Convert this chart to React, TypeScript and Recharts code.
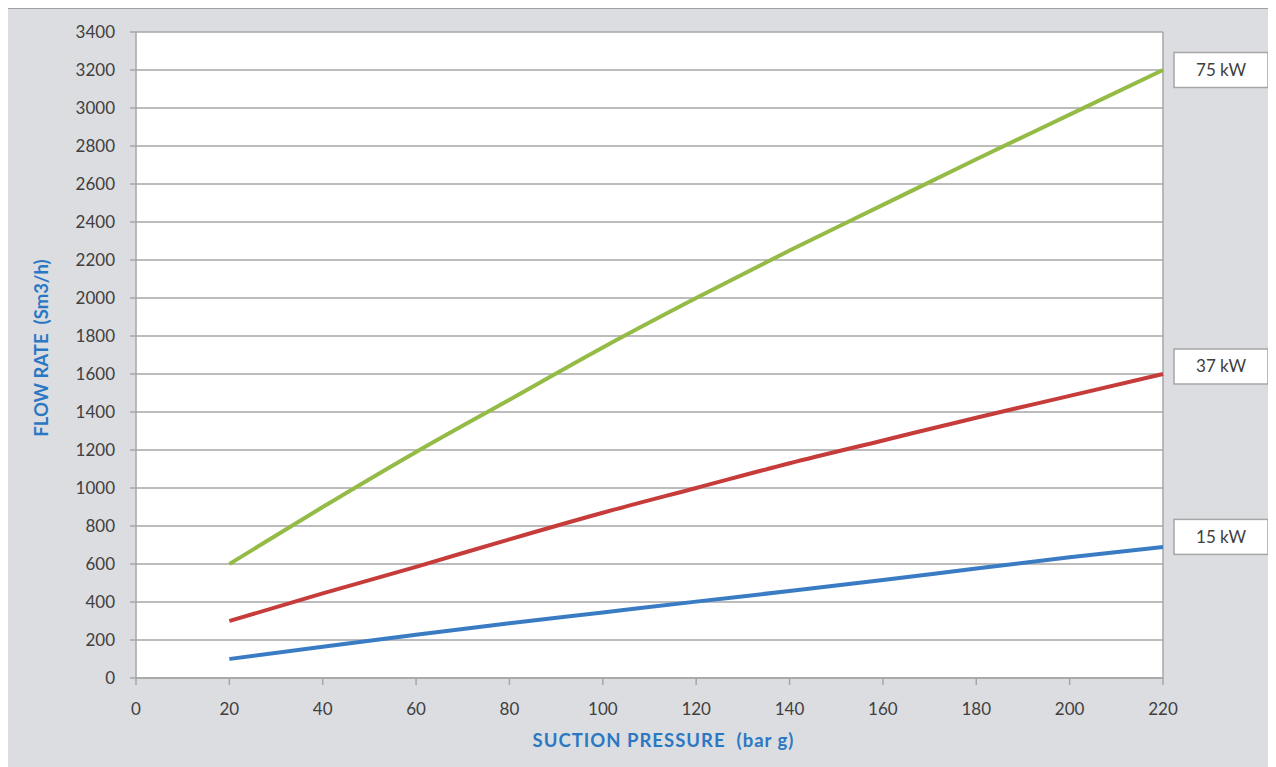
import { LineChart, Line, XAxis, YAxis, CartesianGrid, ReferenceLine } from "recharts"

// suction pressure (bar g) and flow rate (Sm3/h)
const pressure = [20, 40, 60, 80, 100, 120, 140, 160, 180, 200, 220]
const flow75kW = [600, 900, 1190, 1465, 1740, 2000, 2250, 2490, 2730, 2965, 3200]
const flow37kW = [300, 445, 585, 730, 870, 1000, 1130, 1250, 1370, 1485, 1600]
const flow15kW = [100, 165, 228, 288, 345, 402, 458, 516, 576, 635, 690]

const xTicks = [0, 20, 40, 60, 80, 100, 120, 140, 160, 180, 200, 220]
const yTicks = [0, 200, 400, 600, 800, 1000, 1200, 1400, 1600, 1800, 2000, 2200, 2400, 2600, 2800, 3000, 3200, 3400]

const seriesNames = ["75 kW", "37 kW", "15 kW"]
const xTitle = "SUCTION PRESSURE  (bar g)"
const yTitle = "FLOW RATE  (Sm3/h)"

const data = pressure.map((p, i) => ({
  pressure: p,
  kw75: flow75kW[i],
  kw37: flow37kW[i],
  kw15: flow15kW[i],
}))

const FONT = "Lato, 'Open Sans', sans-serif"
const GRID = "#a6a6a6"
const TEXT = "#404040"
const TITLE = "#2a78c4"

function endLabel(text: string, dy: number) {
  return (props: any) => {
    const { x, y, index } = props
    if (index !== data.length - 1) return <g />
    return (
      <g>
        <rect x={x + 11} y={y + dy - 17.5} width={94} height={35} fill="#fff" stroke={GRID} strokeWidth={1.5} />
        <text x={x + 58} y={y + dy} dy="0.35em" textAnchor="middle" fill={TEXT} fontSize={17} fontFamily={FONT}>
          {text}
        </text>
      </g>
    )
  }
}

export default function App() {
  const tickStyle = { fill: TEXT, fontSize: 17, fontFamily: FONT }
  return (
    <div
      style={{
        width: 1268,
        height: 759,
        marginLeft: -1,
        background: "#dcdde0",
        borderLeft: "1px solid #a0a0a0",
        borderTop: "1px solid #a0a0a0",
        boxSizing: "border-box",
      }}
    >
      <LineChart width={1267} height={758} data={data} margin={{ top: 23, right: 112, bottom: 0, left: 0 }}>
        <CartesianGrid vertical={false} stroke={GRID} strokeWidth={1.5} fill="#fff" />
        <XAxis
          dataKey="pressure"
          type="number"
          domain={[0, 220]}
          ticks={xTicks}
          height={89}
          tick={tickStyle}
          tickSize={7}
          tickMargin={18}
          stroke={GRID}
          strokeWidth={1.5}
          label={{
            content: (p: any) => (
              <text
                x={p.viewBox.x + p.viewBox.width / 2 + 14}
                y={p.viewBox.y + 69}
                textAnchor="middle"
                fill={TITLE}
                fontSize={18.5}
                letterSpacing={1}
                fontWeight="bold"
                fontFamily={FONT}
                style={{ whiteSpace: "pre" }}
              >
                {xTitle}
              </text>
            ),
          }}
        />
        <YAxis
          type="number"
          domain={[0, 3400]}
          ticks={yTicks}
          width={128}
          tick={tickStyle}
          tickSize={6}
          tickMargin={15}
          stroke={GRID}
          strokeWidth={1.5}
          label={{
            content: (p: any) => {
              const cx = p.viewBox.x + 34
              const cy = p.viewBox.y + p.viewBox.height / 2 - 7
              return (
                <text
                  x={cx}
                  y={cy}
                  transform={`rotate(-90 ${cx} ${cy})`}
                  dy="0.35em"
                  textAnchor="middle"
                  fill={TITLE}
                  fontSize={18.5}
                  fontWeight="bold"
                  fontFamily={FONT}
                  style={{ whiteSpace: "pre" }}
                >
                  {yTitle}
                </text>
              )
            },
          }}
        />
        <ReferenceLine x={220} stroke={GRID} strokeWidth={1.5} />
        <Line
          dataKey="kw75"
          type="monotone"
          stroke="#93bb45"
          strokeWidth={4}
          dot={false}
          isAnimationActive={false}
          label={endLabel(seriesNames[0], 0)}
        />
        <Line
          dataKey="kw37"
          type="monotone"
          stroke="#c53c3a"
          strokeWidth={4}
          dot={false}
          isAnimationActive={false}
          label={endLabel(seriesNames[1], -7.5)}
        />
        <Line
          dataKey="kw15"
          type="monotone"
          stroke="#3a7cc4"
          strokeWidth={4}
          dot={false}
          isAnimationActive={false}
          label={endLabel(seriesNames[2], -10)}
        />
      </LineChart>
    </div>
  )
}
